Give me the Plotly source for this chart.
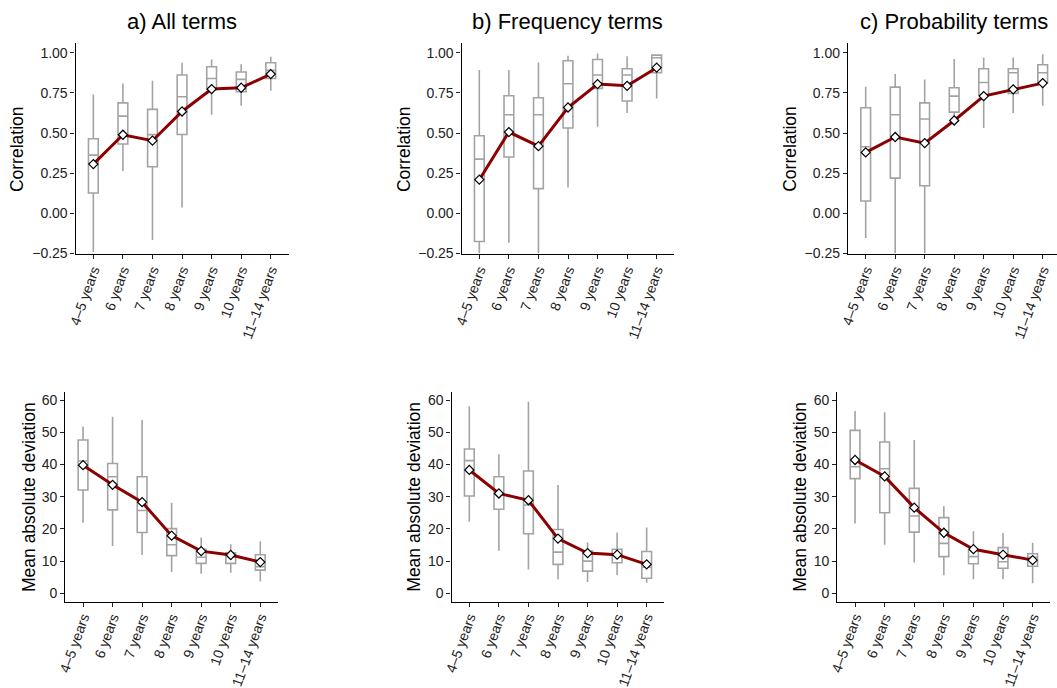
import plotly.graph_objects as go

W, H = 1057, 688

categories = ["4–5 years", "6 years", "7 years", "8 years", "9 years", "10 years", "11–14 years"]

# a) All terms - correlation
all_corr_lo = [-0.242, 0.263, -0.167, 0.036, 0.614, 0.670, 0.763]
all_corr_q1 = [0.126, 0.431, 0.290, 0.491, 0.772, 0.757, 0.840]
all_corr_med = [0.362, 0.605, 0.490, 0.726, 0.840, 0.834, 0.890]
all_corr_q3 = [0.464, 0.688, 0.647, 0.861, 0.913, 0.880, 0.938]
all_corr_hi = [0.740, 0.809, 0.826, 0.938, 0.958, 0.929, 0.975]
all_corr_mean = [0.306, 0.489, 0.452, 0.634, 0.774, 0.782, 0.867]

# b) Frequency terms - correlation
freq_corr_lo = [-0.25, -0.184, -0.25, 0.161, 0.539, 0.624, 0.715]
freq_corr_q1 = [-0.176, 0.350, 0.153, 0.531, 0.778, 0.699, 0.875]
freq_corr_med = [0.337, 0.614, 0.614, 0.807, 0.861, 0.861, 0.969]
freq_corr_q3 = [0.483, 0.732, 0.720, 0.950, 0.958, 0.900, 0.985]
freq_corr_hi = [0.892, 0.892, 0.940, 0.981, 0.996, 0.979, 0.990]
freq_corr_mean = [0.209, 0.506, 0.418, 0.659, 0.805, 0.794, 0.907]

# c) Probability terms - correlation
prob_corr_lo = [-0.155, -0.25, -0.25, 0.600, 0.531, 0.624, 0.670]
prob_corr_q1 = [0.076, 0.219, 0.171, 0.630, 0.735, 0.747, 0.813]
prob_corr_med = [0.414, 0.614, 0.587, 0.730, 0.815, 0.875, 0.875]
prob_corr_q3 = [0.657, 0.786, 0.688, 0.782, 0.900, 0.900, 0.925]
prob_corr_hi = [0.788, 0.867, 0.834, 0.961, 0.971, 0.971, 0.990]
prob_corr_mean = [0.379, 0.475, 0.437, 0.578, 0.730, 0.772, 0.811]

# a) All terms - mean absolute deviation
all_mad_lo = [21.9, 14.7, 11.9, 6.6, 6.1, 6.4, 3.7]
all_mad_q1 = [32.1, 25.9, 18.9, 11.7, 9.3, 9.3, 7.2]
all_mad_med = [41.1, 36.2, 25.7, 15.1, 11.2, 11.4, 8.3]
all_mad_q3 = [47.6, 40.3, 36.2, 20.1, 13.7, 12.6, 12.0]
all_mad_hi = [51.8, 54.8, 53.8, 28.1, 17.3, 15.2, 16.1]
all_mad_mean = [39.8, 33.7, 28.3, 17.9, 13.1, 11.9, 9.7]

# b) Frequency terms - mean absolute deviation
freq_mad_lo = [22.2, 13.2, 7.4, 4.4, 3.5, 5.7, 3.3]
freq_mad_q1 = [30.2, 26.1, 18.5, 9.0, 6.9, 9.5, 4.7]
freq_mad_med = [41.2, 31.0, 27.4, 12.8, 10.0, 11.9, 8.1]
freq_mad_q3 = [44.8, 36.2, 38.0, 19.8, 13.1, 13.7, 13.0]
freq_mad_hi = [58.1, 43.2, 59.5, 33.6, 15.8, 18.9, 20.4]
freq_mad_mean = [38.3, 31.0, 28.9, 17.0, 12.5, 12.0, 9.0]

# c) Probability terms - mean absolute deviation
prob_mad_lo = [21.7, 15.1, 9.6, 5.6, 4.4, 4.4, 3.1]
prob_mad_q1 = [35.6, 25.0, 19.0, 11.4, 9.2, 7.8, 8.4]
prob_mad_med = [39.3, 38.7, 24.0, 15.5, 11.4, 9.8, 11.2]
prob_mad_q3 = [50.6, 47.0, 32.6, 23.5, 13.4, 14.2, 12.3]
prob_mad_hi = [56.6, 56.2, 47.6, 27.0, 19.3, 18.7, 15.7]
prob_mad_mean = [41.4, 36.3, 26.6, 18.8, 13.7, 12.0, 10.3]

titles = ["a) All terms", "b) Frequency terms", "c) Probability terms"]
corr_ticks = [-0.25, 0.0, 0.25, 0.5, 0.75, 1.0]
mad_ticks = [0, 10, 20, 30, 40, 50, 60]

panels = [
    (all_corr_lo, all_corr_q1, all_corr_med, all_corr_q3, all_corr_hi, all_corr_mean),
    (freq_corr_lo, freq_corr_q1, freq_corr_med, freq_corr_q3, freq_corr_hi, freq_corr_mean),
    (prob_corr_lo, prob_corr_q1, prob_corr_med, prob_corr_q3, prob_corr_hi, prob_corr_mean),
    (all_mad_lo, all_mad_q1, all_mad_med, all_mad_q3, all_mad_hi, all_mad_mean),
    (freq_mad_lo, freq_mad_q1, freq_mad_med, freq_mad_q3, freq_mad_hi, freq_mad_mean),
    (prob_mad_lo, prob_mad_q1, prob_mad_med, prob_mad_q3, prob_mad_hi, prob_mad_mean),
]

# layout geometry in pixels
x_dom_px = [(75.6, 288.5), (461.6, 674.4), (848.0, 1057.0),
            (65.3, 278.0), (451.6, 664.4), (837.3, 1050.4)]
x_ranges = [[-0.6, 6.6], [-0.6, 6.6], [-0.6, 6.485],
            [-0.6, 6.6], [-0.6, 6.6], [-0.6, 6.6]]
y_dom_px = [(43.3, 254.3), (391.7, 601.7)]
y_ranges = [[-0.256, 1.059], [-2.6, 62.6]]
ytitle_x_px = [17.3, 403.3, 790.0, 28.3, 414.0, 800.0]
title_x_px = [181.7, 567.8, 953.5]

FONT = "Liberation Sans, Arial, Helvetica, sans-serif"
BOX_COLOR = "#a3a3a3"
LINE_COLOR = "#8b0000"

fig = go.Figure()
layout = dict(width=W, height=H, margin=dict(l=0, r=0, t=0, b=0, autoexpand=False),
              paper_bgcolor="white", plot_bgcolor="white", showlegend=False,
              font=dict(family=FONT, color="#000"))
annotations = []

for i, (lo, q1, med, q3, hi, mean) in enumerate(panels):
    row = i // 3
    n = i + 1
    xa = "x" if n == 1 else f"x{n}"
    ya = "y" if n == 1 else f"y{n}"
    fig.add_trace(go.Box(
        x=categories, q1=q1, median=med, q3=q3, lowerfence=lo, upperfence=hi,
        xaxis=xa, yaxis=ya, width=0.33, whiskerwidth=0,
        fillcolor="white", line=dict(color=BOX_COLOR, width=1.6),
        boxpoints=False, hoverinfo="skip",
    ))
    fig.add_trace(go.Scatter(
        x=categories, y=mean, xaxis=xa, yaxis=ya, mode="lines+markers",
        line=dict(color=LINE_COLOR, width=3),
        marker=dict(symbol="diamond", size=7, color="white",
                    line=dict(color="black", width=1.2)),
    ))
    x0, x1 = x_dom_px[i]
    y0, y1 = y_dom_px[row]
    xkey = "xaxis" if n == 1 else f"xaxis{n}"
    ykey = "yaxis" if n == 1 else f"yaxis{n}"
    layout[xkey] = dict(
        domain=[x0 / W, x1 / W], anchor=ya, type="category",
        categoryorder="array", categoryarray=categories,
        range=x_ranges[i], showgrid=False, zeroline=False, automargin=False,
        showline=True, linecolor="black", linewidth=1.3,
        ticks="outside", ticklen=4, tickwidth=1.2, tickcolor="#222",
        tickangle=-70, ticklabelstandoff=-3,
        tickfont=dict(size=14, color="#222", family=FONT),
        fixedrange=True,
    )
    if row == 0:
        yt = dict(tickvals=corr_ticks, tickformat=".2f")
        ytitle = "Correlation"
    else:
        yt = dict(tickvals=mad_ticks, tickformat="d")
        ytitle = "Mean absolute deviation"
    layout[ykey] = dict(
        domain=[1 - y1 / H, 1 - y0 / H], anchor=xa, range=y_ranges[row],
        showgrid=False, zeroline=False, showline=True, linecolor="black",
        automargin=False,
        linewidth=1.3, ticks="outside", ticklen=4, tickwidth=1.2, tickcolor="#222",
        tickfont=dict(size=14, color="#222", family=FONT), fixedrange=True, **yt,
    )
    annotations.append(dict(
        text=ytitle, xref="paper", yref="paper",
        x=ytitle_x_px[i] / W, y=1 - ((y0 + y1) / 2) / H,
        xanchor="center", yanchor="middle", textangle=-90, showarrow=False,
        font=dict(size=17.5, color="#000", family=FONT),
    ))

for j, t in enumerate(titles):
    annotations.append(dict(
        text=t, xref="paper", yref="paper", x=title_x_px[j] / W, y=1 - 21.5 / H,
        xanchor="center", yanchor="middle", showarrow=False,
        font=dict(size=22, color="#000", family=FONT),
    ))

layout["annotations"] = annotations
fig.update_layout(**layout)
fig.write_html(
    "out.html",
    config={"displayModeBar": False},
    post_script="document.body.style.margin='0';document.body.style.overflow='hidden';",
)
